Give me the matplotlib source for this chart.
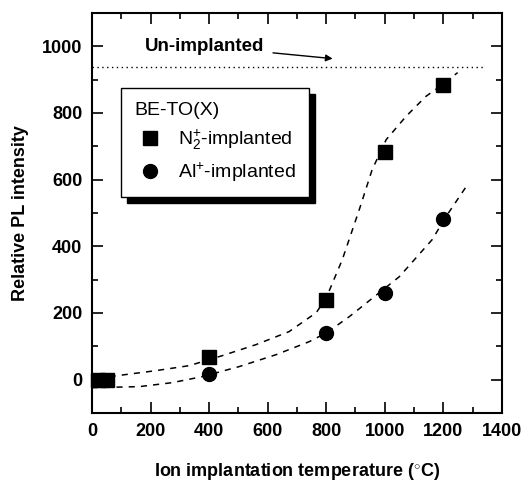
import matplotlib
matplotlib.use("Agg")
import matplotlib.pyplot as plt
from matplotlib.patches import Rectangle
from matplotlib.ticker import MultipleLocator

plt.rcParams['font.family'] = ['Liberation Sans', 'DejaVu Sans']
plt.rcParams['mathtext.fontset'] = 'custom'
plt.rcParams['mathtext.rm'] = 'Liberation Sans'
plt.rcParams['mathtext.it'] = 'Liberation Sans:italic'
plt.rcParams['mathtext.bf'] = 'Liberation Sans:bold'

# Data
n2_temp = [20, 50, 400, 800, 1000, 1200]
n2_pl = [0, 0, 67, 238, 682, 884]
al_temp = [400, 800, 1000, 1200]
al_pl = [18, 140, 260, 482]

# Fitted guide curves
n2_fit_x = [60, 218, 332, 445, 560, 673, 766, 800, 855, 913, 957, 1005, 1073, 1141, 1197, 1249]
n2_fit_y = [9, 27, 42, 72, 105, 144, 201, 245, 360, 510, 630, 720, 790, 850, 885, 921]
al_fit_x = [0, 161, 274, 376, 502, 629, 742, 800, 879, 1050, 1162, 1210, 1279]
al_fit_y = [-24, -21, -9, 9, 39, 75, 114, 140, 189, 309, 420, 490, 580]

unimpl_level = 937
unimpl_x = [0, 1340]

fig = plt.figure(figsize=(5.26, 4.8), dpi=100)
ax = fig.add_axes([0.175, 0.1396, 0.779, 0.8334])

ax.plot(n2_fit_x, n2_fit_y, ls=(0, (4, 4)), color='black', lw=1.1)
ax.plot(al_fit_x, al_fit_y, ls=(0, (4, 4)), color='black', lw=1.1)
ax.plot(unimpl_x, [unimpl_level, unimpl_level], ls=(0, (1, 2.5)), color='black', lw=1.0)

hs, = ax.plot(n2_temp, n2_pl, 's', color='black', ms=9.5, ls='none', clip_on=False, zorder=4,
              label='N$_2^{+}$-implanted')
hc, = ax.plot(al_temp, al_pl, 'o', color='black', ms=10, ls='none', zorder=4,
              label='Al$^{+}$-implanted')

ax.annotate('Un-implanted', xy=(822, 963), xytext=(386, 1000), ha='center', va='center',
            fontsize=13.5, fontweight='bold',
            arrowprops=dict(arrowstyle='-|>', color='black', lw=1.0, shrinkA=4, shrinkB=0,
                            mutation_scale=10))

ax.set_xlim(0, 1400)
ax.set_ylim(-100, 1100)
ax.xaxis.set_major_locator(MultipleLocator(200))
ax.xaxis.set_minor_locator(MultipleLocator(100))
ax.yaxis.set_major_locator(MultipleLocator(200))
ax.yaxis.set_minor_locator(MultipleLocator(100))
ax.tick_params(which='both', direction='in', top=True, right=True, width=1.2)
ax.tick_params(which='major', length=8, labelsize=13, pad=7)
ax.tick_params(which='minor', length=4)
for lab in ax.get_xticklabels() + ax.get_yticklabels():
    lab.set_fontweight('bold')
for sp in ax.spines.values():
    sp.set_linewidth(1.5)

ax.set_xlabel('Ion implantation temperature ($^{\\circ}$C)', fontsize=13, fontweight='bold', labelpad=15)
ax.set_ylabel('Relative PL intensity', fontsize=13, fontweight='bold', labelpad=9)

leg = ax.legend(handles=[hs, hc], title='BE-TO(X)', loc='upper left',
                bbox_to_anchor=(0.071, 0.8125), fontsize=14, title_fontsize=14,
                frameon=True, fancybox=False, edgecolor='black', framealpha=1,
                handletextpad=0.6, handlelength=1.6, borderpad=0.7, labelspacing=0.45,
                borderaxespad=0, alignment='left')
leg.get_frame().set_linewidth(1.0)
leg.set_zorder(6)

fig.canvas.draw()
bb = leg.get_window_extent()
inv = ax.transAxes.inverted()
(x0, y0), (x1, y1) = inv.transform([[bb.x0 + 6, bb.y0 - 6], [bb.x1 + 6, bb.y1 - 6]])
ax.add_patch(Rectangle((x0, y0), x1 - x0, y1 - y0, transform=ax.transAxes,
                       facecolor='black', edgecolor='black', zorder=5.5))

fig.savefig('out.png', dpi=100)
